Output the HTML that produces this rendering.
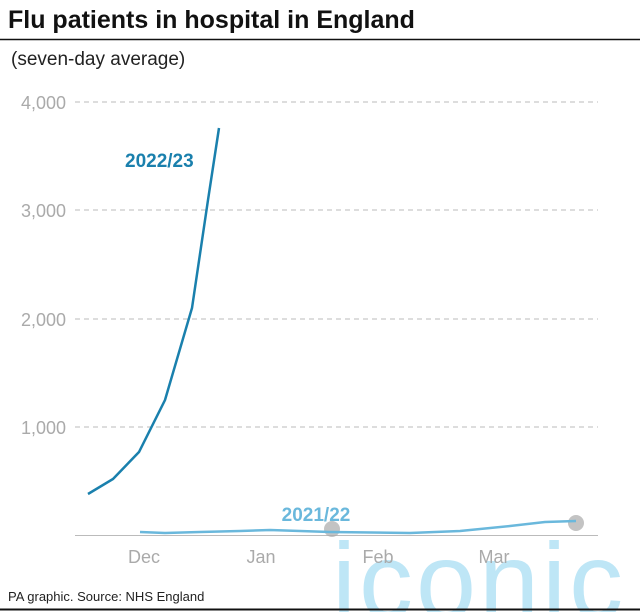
<!DOCTYPE html>
<html><head><meta charset="utf-8"><style>
html,body{margin:0;padding:0;background:#fff;}
svg{display:block;font-family:"Liberation Sans",sans-serif;}
</style></head><body>
<svg width="640" height="612" viewBox="0 0 640 612">
<rect width="640" height="612" fill="#fff"/>
<text x="332" y="618" font-size="108" fill="#a9def4" opacity="0.75" letter-spacing="3">iconic</text>
<text x="8" y="28" font-size="25" font-weight="bold" fill="#111">Flu patients in hospital in England</text>
<line x1="0" y1="39.5" x2="640" y2="39.5" stroke="#111" stroke-width="1.5"/>
<text x="11" y="65" font-size="19" fill="#222">(seven-day average)</text>
<g stroke="#bbb" stroke-width="1" stroke-dasharray="5,4">
<line x1="75" y1="102" x2="598" y2="102"/>
<line x1="75" y1="210" x2="598" y2="210"/>
<line x1="75" y1="319" x2="598" y2="319"/>
<line x1="75" y1="427" x2="598" y2="427"/>
</g>
<line x1="75" y1="535.5" x2="598" y2="535.5" stroke="#bbb" stroke-width="1"/>
<g font-size="18" fill="#aaa" text-anchor="end">
<text x="66" y="109">4,000</text>
<text x="66" y="217">3,000</text>
<text x="66" y="326">2,000</text>
<text x="66" y="434">1,000</text>
</g>
<g font-size="18" fill="#aaa" text-anchor="middle">
<text x="144" y="563">Dec</text>
<text x="261" y="563">Jan</text>
<text x="378" y="563">Feb</text>
<text x="494" y="563">Mar</text>
</g>
<polyline points="88,494 113,479 139,452 165,400 192,308 208,200 219,128" fill="none" stroke="#1a80ad" stroke-width="2.5"/>
<text x="125" y="167" font-size="19" font-weight="bold" fill="#1a80ad">2022/23</text>
<circle cx="332" cy="529" r="8" fill="#aaa" opacity="0.7"/>
<circle cx="576" cy="523" r="8" fill="#aaa" opacity="0.7"/>
<polyline points="140,532 165,533 200,532 240,531 270,530 330,532 410,533 460,531 510,526 545,522 576,521" fill="none" stroke="#6ab8dc" stroke-width="2.5"/>
<text x="316" y="521" font-size="19" font-weight="bold" fill="#6ab8dc" text-anchor="middle">2021/22</text>
<text x="8" y="601" font-size="13" fill="#222">PA graphic. Source: NHS England</text>
<line x1="0" y1="609.5" x2="640" y2="609.5" stroke="#111" stroke-width="2"/>
</svg>
</body></html>
